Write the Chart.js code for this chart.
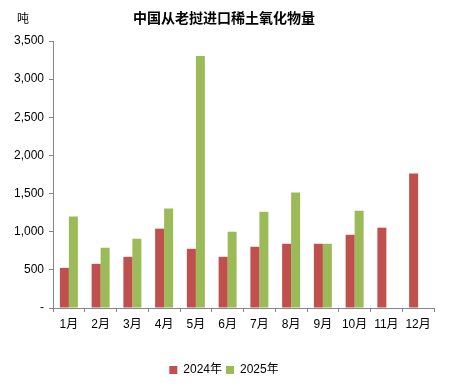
<!DOCTYPE html>
<html>
<head>
<meta charset="utf-8">
<script src="https://cdn.jsdelivr.net/npm/chart.js@4/dist/chart.umd.min.js"></script>
<style>
html,body{margin:0;padding:0;background:#fff;}
#wrap{width:449px;height:390px;}
</style>
</head>
<body>
<div id="wrap"><canvas id="c" width="449" height="390"></canvas></div>
<script>
const titleText = '中国从老挝进口稀土氧化物量';
const unitText = '吨';
const categories = ['1月','2月','3月','4月','5月','6月','7月','8月','9月','10月','11月','12月'];
const seriesNames = ['2024年','2025年'];
const values2024 = [526, 579, 671, 1040, 776, 671, 803, 842, 842, 960, 1053, 1763];
const values2025 = [1200, 790, 908, 1303, 3303, 1000, 1263, 1513, 842, 1276, null, null];
const yTicks = [0, 500, 1000, 1500, 2000, 2500, 3000, 3500];

const FONT = "'Liberation Sans', 'Noto Sans CJK SC', sans-serif";
const AXIS = '#868686';

const textPlugin = {
  id: 'textPlugin',
  afterLayout(chart) {
    if (chart.legend) { chart.legend.left += 7; chart.legend.right += 7; }
  },
  afterDraw(chart) {
    const ctx = chart.ctx;
    ctx.save();
    ctx.fillStyle = '#000';
    ctx.textBaseline = 'middle';
    ctx.textAlign = 'center';
    ctx.font = "bold 14px 'Noto Sans CJK SC', sans-serif";
    ctx.fillText(titleText, 224, 18);
    ctx.font = "12px 'Noto Sans CJK SC', sans-serif";
    ctx.fillText(unitText, 23, 18);
    ctx.restore();
  }
};

new Chart(document.getElementById('c'), {
  type: 'bar',
  data: {
    labels: categories,
    datasets: [
      { label: seriesNames[0], data: values2024, backgroundColor: '#C0504D', borderWidth: 0 },
      { label: seriesNames[1], data: values2025, backgroundColor: '#9BBB59', borderWidth: 0 }
    ]
  },
  options: {
    responsive: false,
    animation: false,
    devicePixelRatio: 1,
    layout: { padding: { left: 0, right: 15, top: 41, bottom: 4 } },
    datasets: { bar: { categoryPercentage: 0.567, barPercentage: 1.0 } },
    scales: {
      x: {
        grid: { display: true, drawOnChartArea: false, drawTicks: true, tickLength: 4, color: AXIS, offset: true },
        border: { display: true, color: AXIS, width: 1 },
        ticks: { color: '#000', font: { family: FONT, size: 12 }, padding: 5, maxRotation: 0, autoSkip: false },
        afterFit(scale) { scale.height = 52; }
      },
      y: {
        min: 0, max: 3500,
        afterBuildTicks(scale) { scale.ticks = yTicks.map(v => ({ value: v })); },
        grid: { display: true, drawOnChartArea: false, drawTicks: true, tickLength: 4, color: AXIS },
        border: { display: true, color: AXIS, width: 1 },
        ticks: {
          color: '#000', font: { family: FONT, size: 12 }, padding: 5,
          callback: v => v === 0 ? '-' : v.toLocaleString('en-US')
        },
        afterFit(scale) { scale.width = 53; }
      }
    },
    plugins: {
      title: { display: false },
      tooltip: { enabled: false },
      legend: {
        display: true,
        position: 'bottom',
        labels: {
          boxWidth: 8, boxHeight: 8, padding: 4,
          color: '#000', font: { family: FONT, size: 12 }
        }
      }
    }
  },
  plugins: [textPlugin]
});
</script>
</body>
</html>
